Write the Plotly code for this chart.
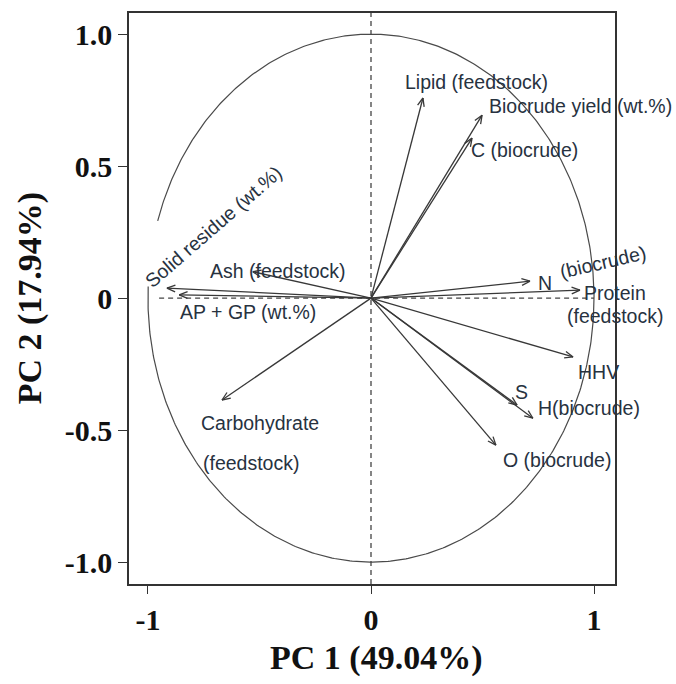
import numpy as np
import plotly.graph_objects as go

# PCA loadings (PC1, PC2) for each variable
variables = ["Lipid (feedstock)", "Biocrude yield (wt.%)", "C (biocrude)", "N (biocrude)",
             "Protein (feedstock)", "HHV", "S", "H (biocrude)", "O (biocrude)",
             "Carbohydrate (feedstock)", "Ash (feedstock)", "Solid residue (wt.%)",
             "AP + GP (wt.%)"]
pc1 = [0.233, 0.498, 0.453, 0.713, 0.937, 0.906, 0.655, 0.726, 0.560,
       -0.668, -0.530, -0.915, -0.860]
pc2 = [0.758, 0.693, 0.606, 0.064, 0.030, -0.223, -0.405, -0.455, -0.557,
       -0.386, 0.100, 0.038, 0.012]

# Axis ticks
x_ticks = [-1, 0, 1]
x_ticktext = ["-1", "0", "1"]
y_ticks = [1.0, 0.5, 0.0, -0.5, -1.0]
y_ticktext = ["1.0", "0.5", "0", "-0.5", "-1.0"]

# Variable labels: (text, x, y, anchor, angle)
labels = [
    ("Lipid (feedstock)", 0.143, 0.818, "left", 0),
    ("Biocrude yield (wt.%)", 0.522, 0.727, "left", 0),
    ("C (biocrude)", 0.438, 0.560, "left", 0),
    ("N", 0.738, 0.057, "left", 0),
    ("(biocrude)", 1.040, 0.138, "center", -13),
    ("Protein", 0.947, 0.019, "left", 0),
    ("(feedstock)", 0.872, -0.068, "left", 0),
    ("HHV", 0.917, -0.280, "left", 0),
    ("S", 0.635, -0.356, "left", 0),
    ("H(biocrude)", 0.738, -0.417, "left", 0),
    ("O (biocrude)", 0.581, -0.614, "left", 0),
    ("Carbohydrate", -0.770, -0.473, "left", 0),
    ("(feedstock)", -0.760, -0.625, "left", 0),
    ("Ash (feedstock)", -0.733, 0.102, "left", 0),
    ("AP + GP (wt.%)", -0.867, -0.053, "left", 0),
    ("Solid residue (wt.%)", -0.708, 0.268, "center", -41),
]

W, H = 676, 684
margin = dict(l=129, r=61, t=13, b=100)
xr = [-1.085, 1.094]
yr = [-1.083, 1.080]
plot_w = W - margin["l"] - margin["r"]
plot_h = H - margin["t"] - margin["b"]
sx = plot_w / (xr[1] - xr[0])
sy = plot_h / (yr[1] - yr[0])

fig = go.Figure()

# Correlation circle (with a small break near the left edge)
theta = np.linspace(np.radians(177.5), np.radians(360 + 163), 600)
fig.add_trace(go.Scatter(x=np.cos(theta), y=np.sin(theta), mode="lines",
                         line=dict(color="#4a4a4a", width=1.2),
                         hoverinfo="skip", showlegend=False))

# Reference dashed lines
fig.add_trace(go.Scatter(x=[-0.95, 1.0], y=[0, 0], mode="lines",
                         line=dict(color="#444", width=1.3, dash="5px,4px"),
                         hoverinfo="skip", showlegend=False))
fig.add_trace(go.Scatter(x=[0, 0], y=[yr[0], yr[1]], mode="lines",
                         line=dict(color="#444", width=1.3, dash="5px,4px"),
                         hoverinfo="skip", showlegend=False))

# Loading arrows: shaft + open head, head computed in pixel space
head_len = 9.0
head_ang = np.radians(22)
ax_x, ax_y = [], []
for vx, vy in zip(pc1, pc2):
    ax_x += [0, vx, None]
    ax_y += [0, vy, None]
    px, py = vx * sx, vy * sy
    L = np.hypot(px, py)
    ux, uy = px / L, py / L
    for s in (1, -1):
        c, sn = np.cos(s * head_ang), np.sin(s * head_ang)
        rx = ux * c - uy * sn
        ry = ux * sn + uy * c
        hx = vx - head_len * rx / sx
        hy = vy - head_len * ry / sy
        ax_x += [hx, vx, None]
        ax_y += [hy, vy, None]

fig.add_trace(go.Scatter(x=ax_x, y=ax_y, mode="lines",
                         line=dict(color="#383838", width=1.3),
                         hoverinfo="skip", showlegend=False))

annotations = []
for text, lx, ly, anchor, ang in labels:
    annotations.append(dict(x=lx, y=ly, xref="x", yref="y", text=text,
                            showarrow=False, xanchor=anchor, yanchor="middle",
                            textangle=ang,
                            font=dict(family="Liberation Sans", size=19.5, color="#27323f")))

serif_bold = dict(family="Liberation Serif", size=34, color="#111", weight="bold")
annotations.append(dict(x=0.508, y=-0.13, xref="paper", yref="paper",
                        text="PC 1 (49.04%)", showarrow=False,
                        xanchor="center", yanchor="middle", font=serif_bold))
annotations.append(dict(x=-0.204, y=0.5, xref="paper", yref="paper",
                        text="PC 2 (17.94%)", showarrow=False, textangle=-90,
                        xanchor="center", yanchor="middle", font=serif_bold))

tickfont = dict(family="Liberation Serif", size=30, color="#111", weight="bold")
fig.update_layout(
    width=W, height=H, margin=margin,
    paper_bgcolor="white", plot_bgcolor="white",
    showlegend=False, annotations=annotations,
    xaxis=dict(range=xr, tickvals=x_ticks, ticktext=x_ticktext, ticks="outside",
               ticklen=8, tickwidth=1.3, tickcolor="#333", showgrid=False,
               zeroline=False, showline=True, linecolor="#333", linewidth=1.5,
               mirror=True, tickfont=tickfont, fixedrange=True),
    yaxis=dict(range=yr, tickvals=y_ticks, ticktext=y_ticktext, ticks="outside",
               ticklen=9, tickwidth=1.3, tickcolor="#333", showgrid=False,
               zeroline=False, showline=True, linecolor="#333", linewidth=1.5,
               mirror=True, tickfont=tickfont, fixedrange=True),
)

fig.write_html("out.html")
